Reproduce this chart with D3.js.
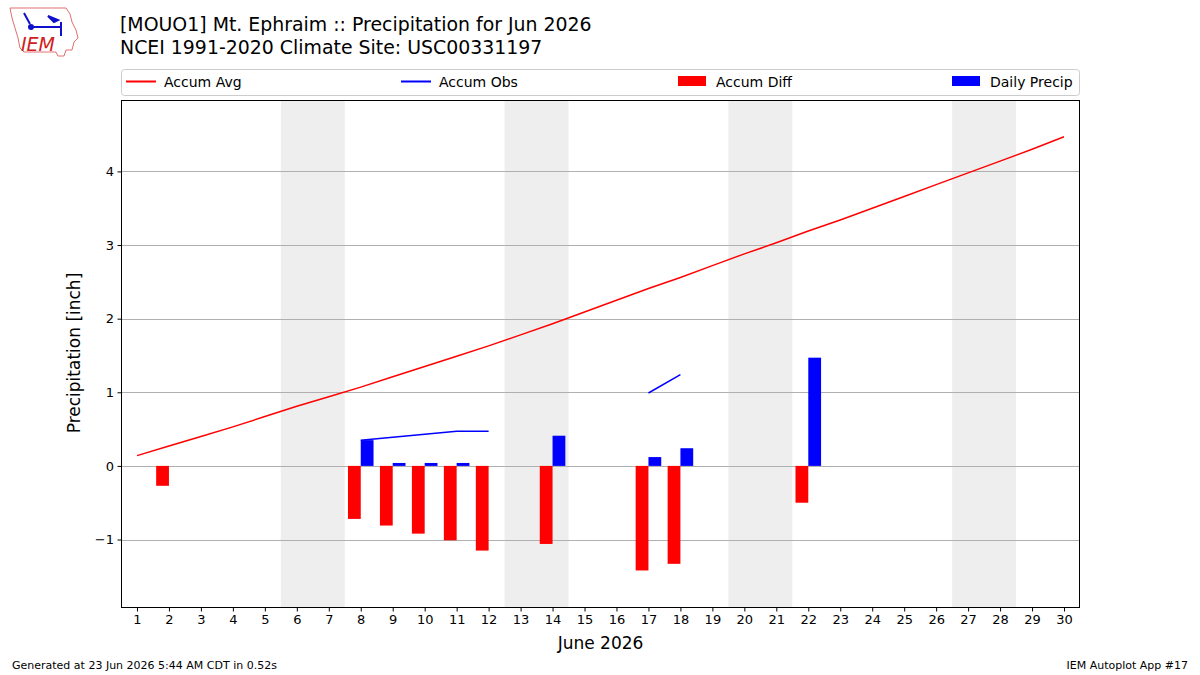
<!DOCTYPE html>
<html><head><meta charset="utf-8">
<script src="https://cdn.jsdelivr.net/npm/d3@7"></script>
<style>body{margin:0;background:#fff}svg text{font-family:"DejaVu Sans",sans-serif}</style>
</head><body>
<svg id="c" width="1200" height="675"></svg>
<script>
const days = d3.range(1, 31);
const accumAvg = [0.14,0.27,0.40,0.53,0.67,0.81,0.94,1.07,1.21,1.35,1.49,1.63,1.78,1.93,2.09,2.25,2.41,2.56,2.72,2.88,3.03,3.19,3.34,3.50,3.66,3.82,3.98,4.14,4.30,4.47];
// null = missing
const accumObs = [null,null,null,null,null,null,null,0.35,0.39,0.43,0.47,0.47,null,null,null,null,0.99,1.24,null,null,null,null,null,null,null,null,null,null,null,null];
const diffDays = [2,8,9,10,11,12,14,17,18,22];
const diffVals = [-0.27,-0.72,-0.81,-0.92,-1.01,-1.15,-1.06,-1.42,-1.33,-0.50];
const precipDays = [8,9,10,11,14,17,18,22];
const precipVals = [0.35,0.04,0.04,0.04,0.41,0.12,0.24,1.47];
const weekendStarts = [6,13,20,27];
const yTicks = [-1,0,1,2,3,4];
const titleLines = ["[MOUO1] Mt. Ephraim :: Precipitation for Jun 2026","NCEI 1991-2020 Climate Site: USC00331197"];

const svg = d3.select("#c");
const L=121, R=1080, T=100, B=608;
const x = d3.scaleLinear().domain([0.5,30.5]).range([L,R]);
const y = d3.scaleLinear().domain([-1.93,4.97]).range([B,T]);

// weekend shading
svg.selectAll("rect.wk").data(weekendStarts).enter().append("rect")
  .attr("x",d=>x(d-0.5)).attr("width",d=>x(d+1.5)-x(d-0.5))
  .attr("y",T).attr("height",B-T).attr("fill","#eeeeee");

// grid
svg.selectAll("line.g").data(yTicks).enter().append("line")
  .attr("x1",L).attr("x2",R).attr("y1",d=>Math.round(y(d))+0.5).attr("y2",d=>Math.round(y(d))+0.5)
  .attr("stroke","#b0b0b0").attr("stroke-width",1);

// diff bars
const bw = 0.4;
svg.selectAll("rect.diff").data(diffDays.map((d,i)=>({d,v:diffVals[i]}))).enter().append("rect")
  .attr("x",p=>x(p.d-bw)).attr("width",p=>x(bw)-x(0))
  .attr("y",p=>y(Math.max(0,p.v))).attr("height",p=>Math.abs(y(p.v)-y(0)))
  .attr("fill","#ff0000");
svg.selectAll("rect.pr").data(precipDays.map((d,i)=>({d,v:precipVals[i]}))).enter().append("rect")
  .attr("x",p=>x(p.d)).attr("width",p=>x(bw)-x(0))
  .attr("y",p=>y(p.v)).attr("height",p=>Math.abs(y(p.v)-y(0)))
  .attr("fill","#0000ff");

// lines
const line = d3.line().defined(d=>d[1]!==null).x(d=>x(d[0])).y(d=>y(d[1]));
svg.append("path").attr("d",line(days.map((d,i)=>[d,accumAvg[i]])))
  .attr("fill","none").attr("stroke","#ff0000").attr("stroke-width",1.5);
svg.append("path").attr("d",line(days.map((d,i)=>[d,accumObs[i]])))
  .attr("fill","none").attr("stroke","#0000ff").attr("stroke-width",1.5);

// frame
svg.append("rect").attr("x",L+0.5).attr("y",T+0.5).attr("width",R-L-1).attr("height",B-T-1)
  .attr("fill","none").attr("stroke","#000").attr("stroke-width",1);

// axes
const xAxis = svg.append("g").attr("transform",`translate(0,${B})`)
  .call(d3.axisBottom(x).tickValues(days).tickFormat(d3.format("d")).tickSizeOuter(0).tickSize(3.5).tickPadding(3.5));
const yAxis = svg.append("g").attr("transform",`translate(${L},0)`)
  .call(d3.axisLeft(y).tickValues(yTicks).tickFormat(d=>d<0?"\u2212"+Math.abs(d):String(d)).tickSizeOuter(0).tickSize(3.5).tickPadding(3.5));
[xAxis,yAxis].forEach(a=>{a.select(".domain").remove();a.selectAll("text").attr("font-size",13).attr("font-family","DejaVu Sans").attr("fill","#000");a.selectAll("line").attr("stroke","#000");});

svg.append("text").attr("x",(L+R)/2).attr("y",649).attr("text-anchor","middle").attr("font-size",17).text("June 2026");
svg.append("text").attr("transform",`translate(80,${(T+B)/2-1}) rotate(-90)`).attr("text-anchor","middle").attr("font-size",17).text("Precipitation [inch]");

// titles
titleLines.forEach((t,i)=>svg.append("text").attr("x",120).attr("y",31+i*23).attr("font-size",18.9).text(t));

// legend
svg.append("rect").attr("x",121.5).attr("y",69.5).attr("width",958).attr("height",26).attr("rx",3)
  .attr("fill","#fff").attr("stroke","#cccccc");
const leg = [
  {t:"Accum Avg",c:"#ff0000",k:"line",x:126},
  {t:"Accum Obs",c:"#0000ff",k:"line",x:401},
  {t:"Accum Diff",c:"#ff0000",k:"rect",x:678},
  {t:"Daily Precip",c:"#0000ff",k:"rect",x:952}
];
leg.forEach(e=>{
  if(e.k==="line") svg.append("line").attr("x1",e.x).attr("x2",e.x+30).attr("y1",81.5).attr("y2",81.5).attr("stroke",e.c).attr("stroke-width",2);
  else svg.append("rect").attr("x",e.x).attr("y",76).attr("width",28).attr("height",10).attr("fill",e.c);
  svg.append("text").attr("x",e.x+38).attr("y",86.5).attr("font-size",14).text(e.t);
});

// footer
svg.append("text").attr("x",12).attr("y",669).attr("font-size",11).text("Generated at 23 Jun 2026 5:44 AM CDT in 0.52s");
svg.append("text").attr("x",1188).attr("y",669).attr("text-anchor","end").attr("font-size",11).text("IEM Autoplot App #17");

// logo
const lg = svg.append("g");
lg.append("path").attr("d","M10,8 L66,8 L70,14 L72,22 L76,30 L78,38 L74,42 L72,50 L66,50 L64,56 L58,56 L56,52 L24,52 L20,48 L18,38 L15,28 L12,18 Z")
  .attr("fill","#fff").attr("stroke","#e07070").attr("stroke-width",1);
lg.append("line").attr("x1",31).attr("x2",62).attr("y1",27).attr("y2",27).attr("stroke","#1010cc").attr("stroke-width",2);
lg.append("circle").attr("cx",31).attr("cy",27).attr("r",3).attr("fill","#1010cc");
lg.append("path").attr("d","M24,13 L30,24 M48,16 L58,20 L54,22 Z M61,22 L61,36").attr("stroke","#1010cc").attr("stroke-width",2).attr("fill","#1010cc");
lg.append("text").attr("x",21).attr("y",51).attr("font-family","Liberation Serif,serif").attr("font-style","italic").attr("font-size",19).attr("fill","#d02020").text("IEM");
</script>
</body></html>
